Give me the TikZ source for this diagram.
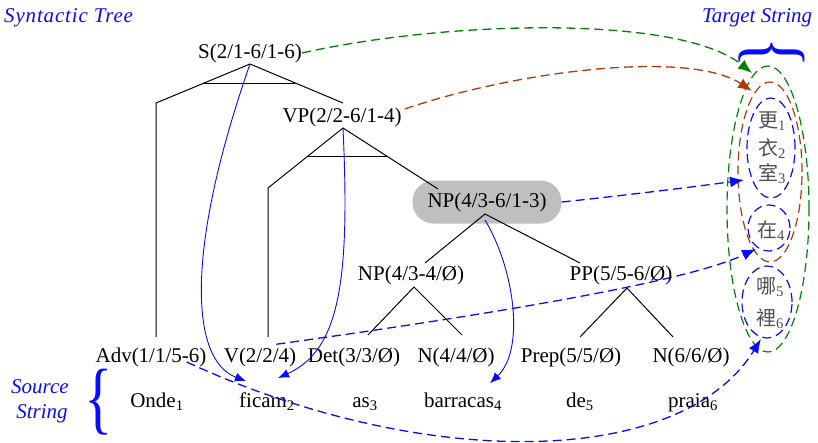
\documentclass[tikz,border=0pt]{standalone}
\usepackage{fontspec}
\setmainfont{Liberation Serif}
\newfontfamily\cjk{Noto Sans CJK TC}
\usetikzlibrary{arrows.meta,shapes.geometric}
\definecolor{ggreen}{RGB}{0,128,0}
\definecolor{bbrown}{RGB}{170,60,10}
\definecolor{bblue}{RGB}{10,10,255}
\definecolor{tgray}{RGB}{80,80,80}
\begin{document}
\begin{tikzpicture}[x=1pt,y=-1pt,
  font=\fontsize{21}{25}\selectfont,
  lbl/.style={inner sep=0pt, anchor=base},
  ttl/.style={inner sep=0pt, anchor=base west, text=bblue, font=\fontsize{21}{25}\selectfont\itshape},
  npbox/.style={fill=black!25, rounded corners=21pt, minimum width=149pt, minimum height=43pt, inner sep=0pt},
  tree/.style={line width=1pt, black},
  hop/.style={dashed, dash pattern=on 9pt off 5pt, line width=1.3pt, -{Latex[length=14pt,width=11pt]}},
  link/.style={bblue, line width=0.9pt, -{Latex[length=11pt,width=9pt]}},
  tgt/.style={ellipse, draw, dashed, dash pattern=on 9pt off 5pt, line width=1.2pt, inner sep=0pt},
  cj/.style={inner sep=0pt, anchor=base, text=tgray},
  brc/.style={inner sep=0pt, text=bblue}
]
\useasboundingbox (0,0) rectangle (818,442);

% titles
\node[ttl] (t1) at (4,22) {\addfontfeatures{LetterSpace=4}Syntactic Tree};
\node[ttl] (t2) at (702,22) {Target String};
\node[ttl, anchor=base] (t3) at (40,393) {Source};
\node[ttl, anchor=base] (t4) at (42,418) {String};

% braces
\node[brc] (lb) at (99,402) {\scalebox{2.8}[3.8]{\{}};
\node[brc, rotate=-90] (tb) at (772,53) {\scalebox{3.0}[3.8]{\{}};

% target ellipses
\node[tgt, ggreen, minimum width=82pt, minimum height=286pt] (gE) at (768,209) {};
\node[tgt, bbrown, minimum width=64pt, minimum height=180pt] (rE) at (770,172) {};
\node[tgt, bblue, minimum width=48pt, minimum height=100pt] (b1) at (771,148) {};
\node[tgt, bblue, minimum width=42pt, minimum height=46pt] (b2) at (769,228) {};
\node[tgt, bblue, minimum width=50pt, minimum height=72pt] (b3) at (767,302) {};

% target characters
\node[cj] (c1) at (772,127) {{\cjk\fontsize{20}{20}\selectfont 更}\textsubscript{1}};
\node[cj] (c2) at (772,155) {{\cjk\fontsize{20}{20}\selectfont 衣}\textsubscript{2}};
\node[cj] (c3) at (772,180) {{\cjk\fontsize{20}{20}\selectfont 室}\textsubscript{3}};
\node[cj] (c4) at (771,237) {{\cjk\fontsize{20}{20}\selectfont 在}\textsubscript{4}};
\node[cj] (c5) at (770,293) {{\cjk\fontsize{20}{20}\selectfont 哪}\textsubscript{5}};
\node[cj] (c6) at (770,325) {{\cjk\fontsize{20}{20}\selectfont 裡}\textsubscript{6}};

% tree nodes
\node[lbl] (S) at (250,58) {S(2/1-6/1-6)};
\node[lbl] (VP) at (342,122) {VP(2/2-6/1-4)};
\node[npbox] (NP) at (487,202) {NP(4/3-6/1-3)};
\node[lbl] (NPb) at (411,280) {NP(4/3-4/Ø)};
\node[lbl] (PP) at (621,280) {PP(5/5-6/Ø)};
\node[lbl] (Adv) at (151,362) {Adv(1/1/5-6)};
\node[lbl] (V) at (260,362) {V(2/2/4)};
\node[lbl] (Det) at (354,362) {Det(3/3/Ø)};
\node[lbl] (N4) at (456,362) {N(4/4/Ø)};
\node[lbl] (Prep) at (571,362) {Prep(5/5/Ø)};
\node[lbl] (N6) at (691,362) {N(6/6/Ø)};

% source string
\node[lbl] (w1) at (157,407) {Onde\textsubscript{1}};
\node[lbl] (w2) at (267,407) {ficam\textsubscript{2}};
\node[lbl] (w3) at (365,407) {as\textsubscript{3}};
\node[lbl] (w4) at (463,407) {barracas\textsubscript{4}};
\node[lbl] (w5) at (580,407) {de\textsubscript{5}};
\node[lbl] (w6) at (693,407) {praia\textsubscript{6}};

% tree skeleton
\coordinate (sA) at (250,64);
\coordinate (sL) at (156,103);
\coordinate (sR) at (343,103);
\coordinate (sB1) at (204,83);
\coordinate (sB2) at (295,83);
\coordinate (sD) at (156,337);
\draw[tree] (sD) -- (sL) -- (sA) -- (sR);
\draw[tree] (sB1) -- (sB2);
\coordinate (vA) at (343,128);
\coordinate (vL) at (268,188);
\coordinate (vR) at (438,189);
\coordinate (vB1) at (308,156);
\coordinate (vB2) at (387,156);
\coordinate (vD) at (268,337);
\draw[tree] (vD) -- (vL) -- (vA) -- (vR);
\draw[tree] (vB1) -- (vB2);
\coordinate (nA) at (485,214);
\coordinate (nL) at (425,263);
\coordinate (nR) at (580,263);
\draw[tree] (nL) -- (nA) -- (nR);
\coordinate (mA) at (414,287);
\coordinate (mL) at (368,335);
\coordinate (mR) at (462,335);
\draw[tree] (mL) -- (mA) -- (mR);
\coordinate (pA) at (627,288);
\coordinate (pL) at (580,337);
\coordinate (pR) at (673,337);
\draw[tree] (pL) -- (pA) -- (pR);

% solid blue links to source words
\draw[link] (sA) .. controls (185,250) and (190,360) .. ([shift={(-21,-11)}]w2.north);
\draw[link] (vA) .. controls (350,280) and (340,350) .. ([shift={(11,-14)}]w2.north);
\draw[link] ([shift={(0,6)}]nA) .. controls (515,270) and (525,350) .. ([shift={(27,-9)}]w4.north);

% dashed links to target
\draw[hop, ggreen] (S.east) .. controls (450,20) and (680,15) .. ([shift={(-16,-136)}]gE.center);
\draw[hop, bbrown] ([shift={(3,-8)}]VP.east) .. controls (520,70) and (690,50) .. ([shift={(-18,-81)}]rE.center);
\draw[hop, bblue] (NP.east) .. controls (620,196) and (700,186) .. ([shift={(-27,32)}]b1.center);
\draw[hop, bblue] ([shift={(-20,-3)}]V.north east) .. controls (450,320) and (680,285) .. ([shift={(-13,21)}]b2.center);
\draw[hop, bblue] ([shift={(-20,5)}]Adv.east) .. controls (420,470) and (680,470) .. ([shift={(-6,37)}]b3.center);
\end{tikzpicture}
\end{document}
